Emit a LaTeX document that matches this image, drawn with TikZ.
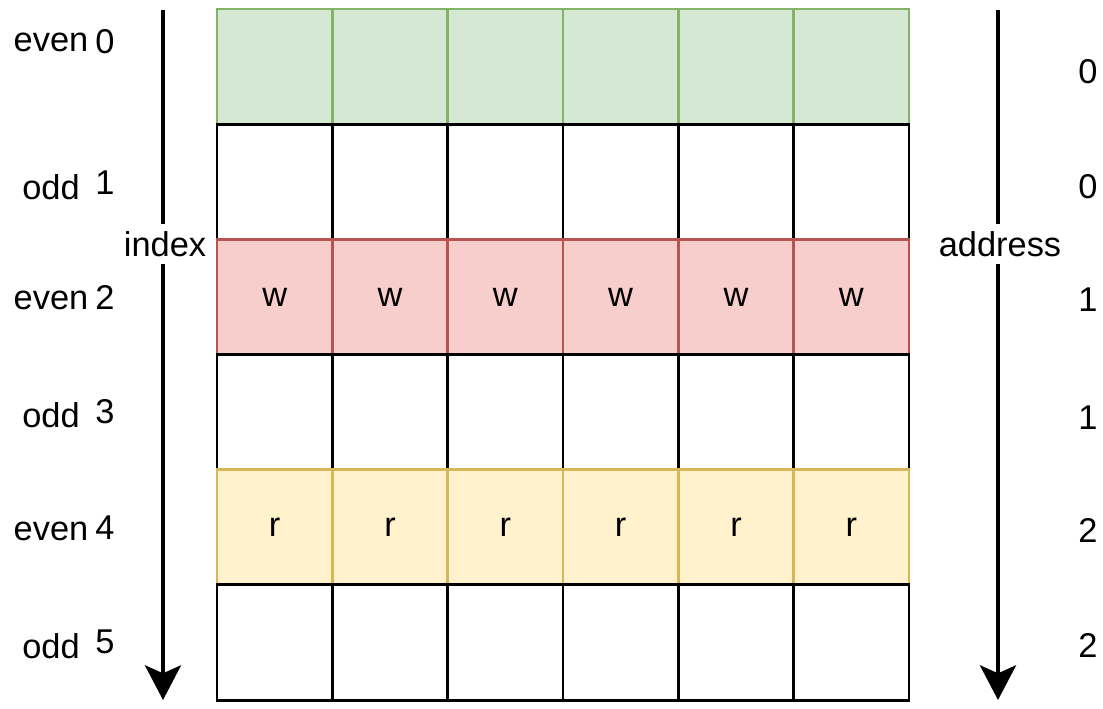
\documentclass[tikz,border=0pt]{standalone}
\usepackage{fontspec}
\setmainfont{Liberation Sans}
\usetikzlibrary{arrows.meta}

\definecolor{zerofill}{HTML}{D5E8D4}
\definecolor{zeroline}{HTML}{82B366}
\definecolor{writefill}{HTML}{F8CECC}
\definecolor{writeline}{HTML}{B85450}
\definecolor{readfill}{HTML}{FFF2CC}
\definecolor{readline}{HTML}{D6B656}

\begin{document}
\begin{tikzpicture}[%
		x=0.75pt,
		y=-0.75pt,
		font=\fontsize{25.8}{30}\selectfont,
		cell/.style={%
			draw,
			line width=2.2pt,
			minimum width=86.5pt,
			minimum height=86.4pt,
			inner sep=0pt,
			outer sep=0pt
		},
		blankcell/.style={cell,fill=white},
		zerocell/.style={cell,draw=zeroline,fill=zerofill},
		writecell/.style={cell,draw=writeline,fill=writefill},
		readcell/.style={cell,draw=readline,fill=readfill},
		lbl/.style={inner sep=0pt},
		axislbl/.style={inner sep=0pt,minimum height=30pt,fill=white},
		stem/.style={line width=3pt},
		ptr/.style={line width=3pt,-{Stealth[length=26pt,width=27pt,inset=6pt]}}
		]
		\useasboundingbox (0,0) rectangle (1103,709);

		% rows of the buffer, drawn top to bottom
		\foreach \c in {0,...,5}
			\node[zerocell] (c-0-\c) at (274.67+115.33*\c,66.58) {};
		\foreach \c in {0,...,5}
			\node[blankcell] (c-1-\c) at (274.67+115.33*\c,181.75) {};
		\foreach \c in {0,...,5}
			\node[writecell] (c-2-\c) at (274.67+115.33*\c,296.92) {w};
		\foreach \c in {0,...,5}
			\node[blankcell] (c-3-\c) at (274.67+115.33*\c,412.09) {};
		\foreach \c in {0,...,5}
			\node[readcell] (c-4-\c) at (274.67+115.33*\c,527.26) {r};
		\foreach \c in {0,...,5}
			\node[blankcell] (c-5-\c) at (274.67+115.33*\c,642.43) {};

		% index side
		\foreach \r/\kind/\y/\ny in {0/even/42/42,1/odd/187/183,2/even/300/297,3/odd/415/412,4/even/531/528,5/odd/646/642}{
			\node[lbl] (kind-\r) at (51,\y) {\kind};
			\node[lbl] (idx-\r) at (105,\ny) {\r};
		}

		% address side
		\foreach \r/\a/\y in {0/0/72,1/0/187,2/1/300,3/1/418,4/2/530,5/2/645}
			\node[lbl] (addr-\r) at (1088,\y) {\a};

		\coordinate (itop) at (163,10);
		\coordinate (ibot) at (163,700);
		\node[axislbl] (index) at (165,244) {index};
		\draw[stem] (itop) -- (index.north -| itop);
		\draw[ptr] (index.south -| itop) -- (ibot);

		\coordinate (atop) at (998,10);
		\coordinate (abot) at (998,700);
		\node[axislbl] (address) at (1000,244) {address};
		\draw[stem] (atop) -- (address.north -| atop);
		\draw[ptr] (address.south -| atop) -- (abot);
		\end{tikzpicture}
\end{document}
